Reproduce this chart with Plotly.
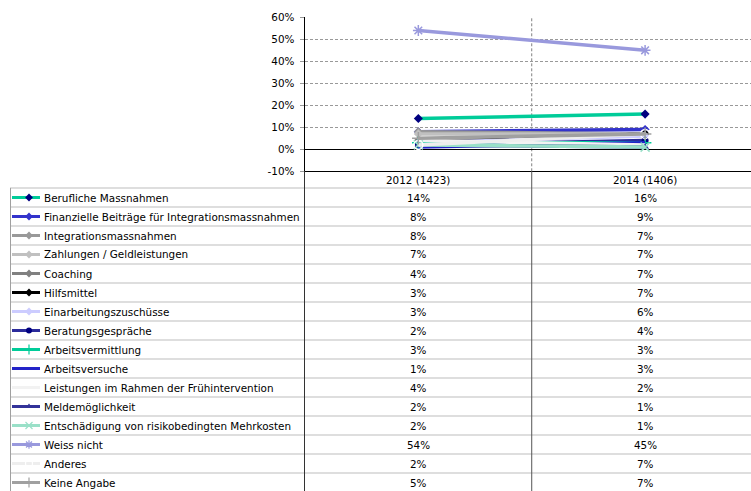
import plotly.graph_objects as go

W, H = 751, 491

categories = ["2012 (1423)", "2014 (1406)"]
series_names = [
    "Berufliche Massnahmen",
    "Finanzielle Beiträge für Integrationsmassnahmen",
    "Integrationsmassnahmen",
    "Zahlungen / Geldleistungen",
    "Coaching",
    "Hilfsmittel",
    "Einarbeitungszuschüsse",
    "Beratungsgespräche",
    "Arbeitsvermittlung",
    "Arbeitsversuche",
    "Leistungen im Rahmen der Frühintervention",
    "Meldemöglichkeit",
    "Entschädigung von risikobedingten Mehrkosten",
    "Weiss nicht",
    "Anderes",
    "Keine Angabe",
]
values_2012 = [14, 8, 8, 7, 4, 3, 3, 2, 3, 1, 4, 2, 2, 54, 2, 5]
values_2014 = [16, 9, 7, 7, 7, 7, 6, 4, 3, 3, 2, 1, 1, 45, 7, 7]
y_ticks = [-10, 0, 10, 20, 30, 40, 50, 60]
y_tick_labels = ["-10%", "0%", "10%", "20%", "30%", "40%", "50%", "60%"]

line_colors = ["#00CC99", "#3333CC", "#999999", "#C0C0C0", "#808080", "#000000",
               "#CCCCFF", "#2B2B9B", "#00CC99", "#2323C8", "#F2F2F2", "#333399",
               "#99E0C8", "#9999DD", "#EEEEEE", "#A0A0A0"]
marker_colors = ["#000080", "#3333CC", "#999999", "#C0C0C0", "#808080", "#000000",
                 "#CCCCFF", "#000080", "#00CC99", "#2323C8", "#F2F2F2", "#333399",
                 "#99E0C8", "#9999DD", "#DDDDDD", "#A0A0A0"]
symbols = ["diamond", "diamond", "diamond", "diamond", "diamond", "diamond",
           "diamond", "circle", "cross-thin", None, None, "triangle-up",
           "x-thin", "asterisk", "circle-open", "cross-thin"]

FONT = "DejaVu Sans"
FS = 10.4

def px(x):
    return x / W

def py(y):
    return 1 - y / H

fig = go.Figure()

THIN = ("cross-thin", "x-thin", "asterisk", "circle-open")

# data lines in chart
for i, name in enumerate(series_names):
    sym = symbols[i]
    mode = "lines+markers" if sym else "lines"
    thin = sym in THIN
    fig.add_trace(go.Scatter(
        x=[0, 1], y=[values_2012[i] / 100, values_2014[i] / 100],
        mode=mode, name=name, showlegend=False,
        line=dict(color=line_colors[i], width=3.5),
        marker=dict(symbol=sym or "circle", size=9 if thin else 7,
                    color="white" if sym == "circle-open" else marker_colors[i],
                    line=dict(color=marker_colors[i], width=1.5 if thin else 0)),
        xaxis="x", yaxis="y", cliponaxis=False,
    ))

# table legend keys (pixel axis restricted to the key column)
ROW_TOP = 188
ROW_H = 19
for i, name in enumerate(series_names):
    cy = ROW_TOP + ROW_H * (i + 0.5)
    fig.add_trace(go.Scatter(
        x=[12, 40], y=[cy, cy], mode="lines", showlegend=False,
        line=dict(color=line_colors[i], width=3),
        xaxis="x2", yaxis="y2", hoverinfo="skip", cliponaxis=False,
    ))
    sym = symbols[i]
    if sym:
        thin = sym in THIN
        fig.add_trace(go.Scatter(
            x=[29], y=[cy], mode="markers", showlegend=False,
            marker=dict(symbol=sym, size=7 if thin else 6,
                        color="white" if sym == "circle-open" else marker_colors[i],
                        line=dict(color=marker_colors[i], width=1.2 if thin else 0)),
            xaxis="x2", yaxis="y2", hoverinfo="skip", cliponaxis=False,
        ))

shapes = []
shapes.append(dict(type="line", xref="x", yref="y domain", x0=0.5, x1=0.5, y0=0, y1=1,
                   line=dict(color="#808080", width=1, dash="3px,2px"), layer="below"))
for k in range(0, len(series_names) + 1):
    yy = ROW_TOP + ROW_H * k
    shapes.append(dict(type="line", xref="paper", yref="paper", x0=px(10), x1=1,
                       y0=py(yy), y1=py(yy), line=dict(color="#BDBDBD", width=1)))
shapes.append(dict(type="line", xref="paper", yref="paper", x0=px(10.5), x1=px(10.5),
                   y0=py(ROW_TOP), y1=0, line=dict(color="#A0A0A0", width=1)))
shapes.append(dict(type="line", xref="paper", yref="paper", x0=px(304.5), x1=px(304.5),
                   y0=py(171), y1=0, line=dict(color="#333333", width=1)))
shapes.append(dict(type="line", xref="x", yref="paper", x0=0.5, x1=0.5,
                   y0=py(171), y1=0, line=dict(color="#555555", width=1)))

annotations = []
for j, cat in enumerate(categories):
    annotations.append(dict(x=j, y=py(180), xref="x", yref="paper", text=cat,
                            xanchor="center", yanchor="middle", showarrow=False,
                            font=dict(family=FONT, size=FS, color="black")))
for i, name in enumerate(series_names):
    cy = ROW_TOP + ROW_H * (i + 0.5)
    annotations.append(dict(x=px(42), y=py(cy), xref="paper", yref="paper", text=name,
                            xanchor="left", yanchor="middle", showarrow=False,
                            font=dict(family=FONT, size=FS, color="black")))
    for j, vals in enumerate([values_2012, values_2014]):
        annotations.append(dict(x=j, y=py(cy), xref="x", yref="paper",
                                text=f"{vals[i]}%", showarrow=False,
                                xanchor="center", yanchor="middle",
                                font=dict(family=FONT, size=FS, color="black")))

fig.update_layout(
    width=W, height=H, autosize=False,
    margin=dict(l=0, r=0, t=0, b=0, pad=0, autoexpand=False),
    paper_bgcolor="white", plot_bgcolor="rgba(0,0,0,0)",
    xaxis=dict(domain=[px(304.5), 1], range=[-0.502, 1.467], showgrid=False,
               showticklabels=False, zeroline=False, showline=True, automargin=False,
               linecolor="black", linewidth=1, ticks=""),
    yaxis=dict(domain=[py(171.3), py(17.3)], range=[-0.1, 0.6], automargin=False,
               tickmode="array", tickvals=[v / 100 for v in y_ticks],
               ticktext=y_tick_labels,
               showgrid=True, gridcolor="#999999", griddash="3px,2px", gridwidth=1,
               zeroline=True, zerolinecolor="black", zerolinewidth=1,
               showline=True, linecolor="black", linewidth=1,
               ticks="outside", ticklen=4, tickcolor="#999999", ticklabelstandoff=3,
               tickfont=dict(family=FONT, size=FS, color="black")),
    xaxis2=dict(domain=[0, px(42)], range=[0, 42], visible=False, anchor="y2",
                automargin=False),
    yaxis2=dict(domain=[0, py(ROW_TOP)], range=[H, ROW_TOP], visible=False, anchor="x2",
                automargin=False),
    shapes=shapes, annotations=annotations,
    font=dict(family=FONT, size=FS),
)

post = (
    "document.body.style.margin='0';"
    "document.body.style.overflow='hidden';"
    "var gd=document.getElementById('{plot_id}');"
    "gd.style.position='fixed';gd.style.top='0px';gd.style.left='0px';"
)

fig.write_html("out.html", config={"displayModeBar": False}, post_script=post)
